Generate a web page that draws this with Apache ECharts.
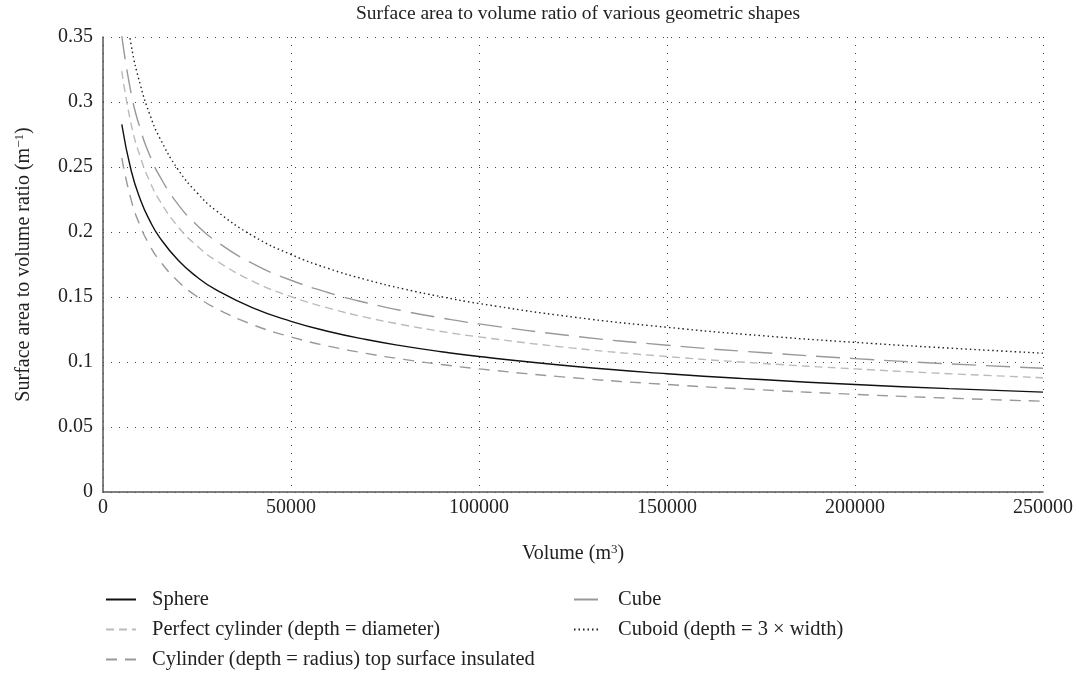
<!DOCTYPE html>
<html><head><meta charset="utf-8">
<script src="https://cdn.jsdelivr.net/npm/echarts@6/dist/echarts.min.js"></script>
<style>html,body{margin:0;padding:0;background:#fff}#c{width:1080px;height:680px}</style>
</head><body><div id="c"></div>
<script>
const volumes = [5000,7500,10000,12500,15000,20000,25000,30000,40000,50000,60000,70000,80000,90000,100000,125000,150000,175000,200000,225000,250000];
const sphere = [0.2828,0.2471,0.2245,0.2084,0.1961,0.1782,0.1654,0.1556,0.1414,0.1313,0.1235,0.1173,0.1122,0.1079,0.1042,0.0967,0.0910,0.0865,0.0827,0.0795,0.0768];
const cube = [0.3509,0.3065,0.2785,0.2585,0.2433,0.2210,0.2052,0.1931,0.1754,0.1629,0.1533,0.1456,0.1392,0.1339,0.1293,0.1200,0.1129,0.1073,0.1026,0.0986,0.0952];
const perfectCylinder = [0.3237,0.2828,0.2570,0.2385,0.2245,0.2039,0.1893,0.1782,0.1619,0.1503,0.1414,0.1343,0.1285,0.1235,0.1193,0.1107,0.1042,0.0990,0.0947,0.0910,0.0879];
const cylinderRadius = [0.2570,0.2245,0.2040,0.1893,0.1782,0.1619,0.1503,0.1414,0.1285,0.1193,0.1122,0.1066,0.1020,0.0981,0.0947,0.0879,0.0827,0.0786,0.0751,0.0722,0.0698];
const cuboid = [0.3936,0.3438,0.3124,0.2900,0.2729,0.2479,0.2302,0.2166,0.1968,0.1827,0.1719,0.1633,0.1562,0.1502,0.1450,0.1346,0.1267,0.1203,0.1151,0.1107,0.1068];
const names = ['Sphere','Cube','Perfect cylinder (depth = diameter)','Cuboid (depth = 3 \u00d7 width)','Cylinder (depth = radius) top surface insulated'];

const FONT = 'Liberation Serif';
const FS = 20;
const pair = a => volumes.map((v,i)=>[v,a[i]]);
const chart = echarts.init(document.getElementById('c'));
const legendCommon = {orient: 'vertical', top: 584, itemHeight: 14, itemGap: 9,
  itemStyle: {color: 'rgba(0,0,0,0)', borderWidth: 0, opacity: 0}};
const rich = {a: {fontFamily: FONT, fontSize: FS, color: '#222'}, s: {fontFamily: FONT, fontSize: 13, color: '#222', verticalAlign: 'top', padding: [0,0,9,0]}};
chart.setOption({
  animation: false,
  title: {text: 'Surface area to volume ratio of various geometric shapes', left: 573, textAlign: 'center', top: -1,
    textStyle: {fontFamily: FONT, fontSize: 19.5, fontWeight: 'normal', color: '#222'}},
  grid: {left: 103, right: 37, top: 37, bottom: 188},
  legend: [
    Object.assign({left: 100, itemWidth: 30, textStyle: {fontFamily: FONT, fontSize: 20.5, color: '#222', padding: [0,0,0,11]},
      data: [names[0], names[2], names[4]]}, legendCommon),
    Object.assign({left: 568, itemWidth: 27, textStyle: {fontFamily: FONT, fontSize: 20.5, color: '#222', padding: [0,0,0,12]},
      data: [names[1], names[3]]}, legendCommon)
  ],
  xAxis: {type: 'value', min: 0, max: 250000, interval: 50000,
    name: '{a|Volume (m}{s|3}{a|)}', nameLocation: 'middle', nameGap: 51,
    nameTextStyle: {rich: rich},
    axisLine: {lineStyle: {color: '#555', width: 1.5}}, axisTick: {show: false},
    axisLabel: {fontFamily: FONT, fontSize: FS, color: '#222', margin: 6, formatter: v => String(v)},
    splitLine: {show: true, lineStyle: {color: '#444', type: [1, 7], width: 1}}},
  yAxis: {type: 'value', min: 0, max: 0.35, interval: 0.05,
    name: '{a|Surface area to volume ratio (m}{s|\u22121}{a|)}', nameLocation: 'middle', nameGap: 68, nameRotate: 90,
    nameTextStyle: {rich: rich},
    axisLine: {show: true, lineStyle: {color: '#555', width: 1.5}}, axisTick: {show: false},
    axisLabel: {fontFamily: FONT, fontSize: FS, color: '#222', margin: 10},
    splitLine: {show: true, lineStyle: {color: '#444', type: [1, 7], width: 1}}},
  series: [
    {name: names[0], type: 'line', data: pair(sphere), smooth: true, symbol: 'none', lineStyle: {color: '#111', width: 1.4, type: 'solid'}, itemStyle: {color: '#111'}},
    {name: names[1], type: 'line', data: pair(cube), smooth: true, symbol: 'none', lineStyle: {color: '#999', width: 1.4, type: [24, 10]}, itemStyle: {color: '#999'}},
    {name: names[2], type: 'line', data: pair(perfectCylinder), smooth: true, symbol: 'none', lineStyle: {color: '#bbb', width: 1.4, type: [8, 5]}, itemStyle: {color: '#bbb'}},
    {name: names[3], type: 'line', data: pair(cuboid), smooth: true, symbol: 'none', lineStyle: {color: '#222', width: 1.4, type: [1.5, 3]}, itemStyle: {color: '#222'}},
    {name: names[4], type: 'line', data: pair(cylinderRadius), smooth: true, symbol: 'none', lineStyle: {color: '#999', width: 1.4, type: [11, 8]}, itemStyle: {color: '#999'}}
  ]
});
</script></body></html>
